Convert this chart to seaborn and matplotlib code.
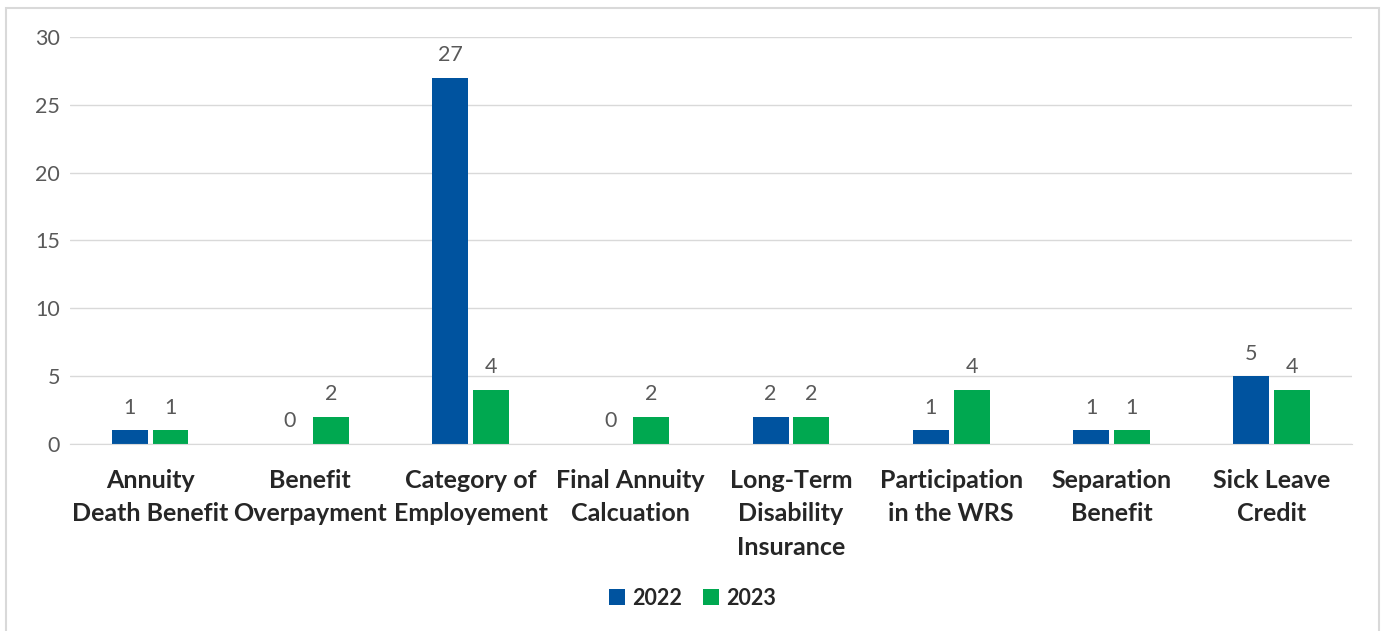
import numpy as np
import pandas as pd
import seaborn as sns
import matplotlib.pyplot as plt
from matplotlib.patches import Rectangle

categories = ["Annuity\nDeath Benefit", "Benefit\nOverpayment", "Category of\nEmployement",
              "Final Annuity\nCalcuation", "Long-Term\nDisability\nInsurance",
              "Participation\nin the WRS", "Separation\nBenefit", "Sick Leave\nCredit"]
years = ["2022", "2023"]
values_2022 = [1, 0, 27, 0, 2, 1, 1, 5]
values_2023 = [1, 2, 4, 2, 2, 4, 1, 4]
y_ticks = [0, 5, 10, 15, 20, 25, 30]

df = pd.DataFrame({
    "category": categories * 2,
    "year": [years[0]] * len(categories) + [years[1]] * len(categories),
    "count": values_2022 + values_2023,
})

sns.set_style("white")
plt.rcParams['font.family'] = ['Lato', 'DejaVu Sans']

fig = plt.figure(figsize=(13.85, 6.31), dpi=100)
ax = fig.add_axes([0.0505, 0.2964, 0.9255, 0.645])

sns.barplot(data=df, x="category", y="count", hue="year", order=categories,
            palette=["#00539F", "#00A850"], saturation=1, width=0.51, gap=0.12,
            linewidth=0, ax=ax)

for cont in ax.containers:
    ax.bar_label(cont, padding=9, fontsize=15.5, color="#595959")

ax.set_ylim(0, 30)
ax.set_yticks(y_ticks)
ax.set_xlim(-0.5, len(categories) - 0.5)
ax.yaxis.grid(True, color="#D9D9D9", linewidth=1)
ax.set_axisbelow(True)
for s in ["top", "right", "left"]:
    ax.spines[s].set_visible(False)
ax.spines["bottom"].set_color("#D9D9D9")
ax.tick_params(axis="y", length=0, labelsize=15.5, labelcolor="#595959", pad=7)
ax.tick_params(axis="x", length=0, labelsize=18, labelcolor="#262626", pad=18)
for t in ax.get_xticklabels():
    t.set_fontweight("bold")
    t.set_linespacing(1.55)
ax.set_xlabel("")
ax.set_ylabel("")

leg = ax.legend(loc="center", bbox_to_anchor=(0.5, 0.052), bbox_transform=fig.transFigure,
                ncol=2, frameon=False, handlelength=0.75, handleheight=0.75,
                columnspacing=1.0, handletextpad=0.3, prop={"size": 15.5, "weight": "bold"})
for txt in leg.get_texts():
    txt.set_color("#262626")

fig.patches.append(Rectangle((0.004, -0.01), 0.992, 0.998, transform=fig.transFigure,
                             fill=False, edgecolor="#D9D9D9", linewidth=1.5))

fig.savefig("out.png", dpi=100)
